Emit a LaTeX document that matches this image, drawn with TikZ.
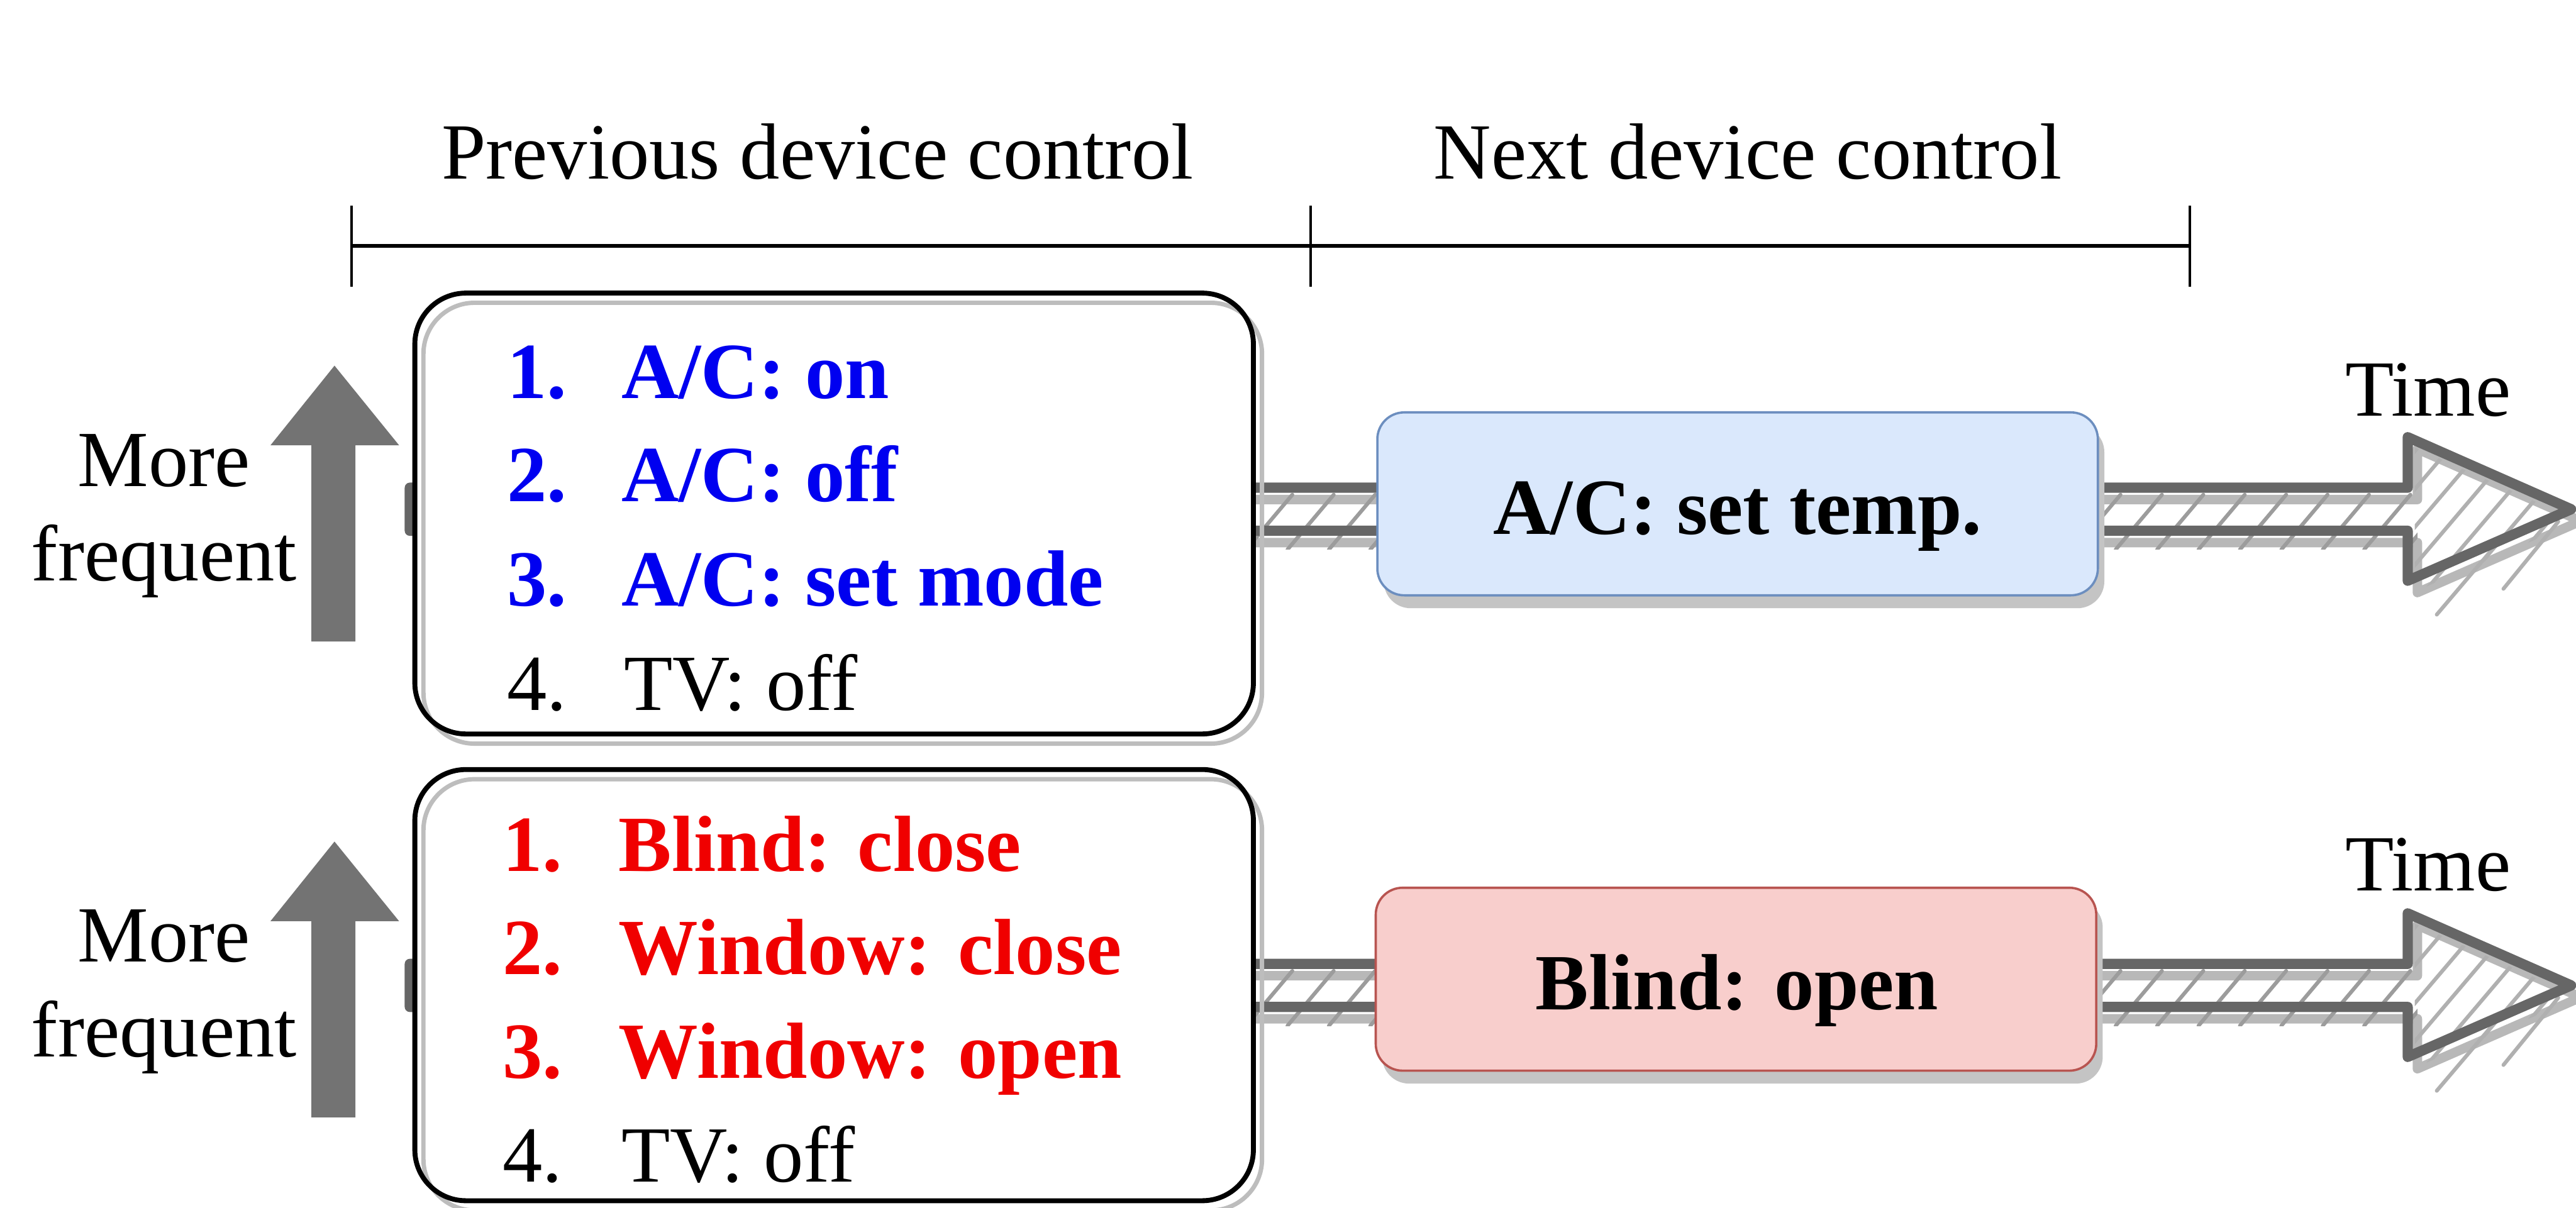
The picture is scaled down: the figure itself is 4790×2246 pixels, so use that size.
\documentclass[tikz,border=0pt]{standalone}
\usepackage{fontspec}
\setmainfont{Liberation Serif}
\usetikzlibrary{shadows}
\definecolor{arrdark}{HTML}{666666}
\definecolor{arrlight}{HTML}{B8B8B8}
\definecolor{hatch}{HTML}{9C9C9C}
\definecolor{hatchlt}{HTML}{B0B0B0}
\definecolor{upgray}{HTML}{737373}
\definecolor{bluefill}{HTML}{DAE8FC}
\definecolor{blueline}{HTML}{6C8EBF}
\definecolor{redfill}{HTML}{F8CECC}
\definecolor{redline}{HTML}{B85450}
\definecolor{sketchgray}{HTML}{BDBDBD}
\definecolor{shadowgray}{HTML}{C4C4C4}
\definecolor{listblue}{HTML}{0000F0}
\definecolor{listred}{HTML}{F00000}
\newcommand\myfs{\fontsize{42.1}{50}\selectfont}
\newcommand\timearrow[1]{%
\begin{scope}[yshift=#1]
 \draw[arrlightline, shift={(18,22)}] (762,907) -- (4477,907) -- (4477,813) -- (4781,947) -- (4477,1080) -- (4477,987) -- (762,987) -- cycle;
 \begin{scope}
  \clip (762,905) rectangle (4495,1022);
  \foreach \hx in {700,777,...,4500} {\draw[hatchline] (\hx,1022) -- ++(86,-102);}
 \end{scope}
 \begin{scope}
  \clip (4490,832) -- (4795,969) -- (4490,1100) -- cycle;
  \foreach \hx in {4260,4320,...,4800} {\draw[hatchline, draw=hatchlt] (\hx,1110) -- ++(255,-300);}
 \end{scope}
 \draw[hatchline, draw=hatchlt] (4531,1143) -- (4633,1023);
 \draw[hatchline, draw=hatchlt] (4655,1095) -- (4757,970);
 \draw[arrdarkline] (762,907) -- (4477,907) -- (4477,813) -- (4781,947) -- (4477,1080) -- (4477,987) -- (762,987) -- cycle;
\end{scope}}
\begin{document}
\begin{tikzpicture}[x=0.01cm, y=-0.01cm,
  txt/.style={font=\myfs, inner sep=0pt},
  btxt/.style={font=\myfs\bfseries, inner sep=0pt},
  listbox/.style={rectangle, rounded corners=0.95cm, fill=white, inner sep=0pt, minimum width=15.57cm},
  boxline/.style={draw=black, line width=2.6pt, rounded corners=0.95cm},
  sketchline/.style={draw=sketchgray, line width=2.3pt, rounded corners=0.95cm},
  ctlbox/.style={rectangle, rounded corners=0.5cm, line width=1.2pt, minimum width=13.39cm, minimum height=3.4cm, inner sep=0pt, drop shadow={shadow xshift=0.12cm, shadow yshift=-0.24cm, fill=shadowgray, opacity=1}},
  bracket/.style={line width=2pt, black},
  tickline/.style={line width=1.4pt, black},
  arrdarkline/.style={draw=arrdark, line width=5.4pt, line join=round},
  arrlightline/.style={draw=arrlight, line width=5pt, line join=round},
  hatchline/.style={draw=hatch, line width=2pt, line cap=round},
  uparrow/.style={fill=upgray}
]
\useasboundingbox (0,0) rectangle (4790,2246);
\fill[white] (0,0) rectangle (4790,2246);

% time bracket
\coordinate (bl) at (654,457);
\coordinate (bm) at (2437,457);
\coordinate (br) at (4072,457);
\draw[bracket] (bl) -- (bm) -- (br);
\draw[tickline] ([yshift=0.74cm]bl) -- ([yshift=-0.76cm]bl);
\draw[tickline] ([yshift=0.74cm]bm) -- ([yshift=-0.76cm]bm);
\draw[tickline] ([yshift=0.74cm]br) -- ([yshift=-0.76cm]br);
\node[txt, anchor=base] (prevlbl) at (1520,333) {Previous device control};
\node[txt, anchor=base] (nextlbl) at (3250,333) {Next device control};

% frequency arrows
\fill[uparrow] (622,680) -- (742,828) -- (661,828) -- (661,1193) -- (579,1193) -- (579,828) -- (503,828) -- cycle;
\fill[uparrow] (622,1565) -- (742,1713) -- (661,1713) -- (661,2078) -- (579,2078) -- (579,1713) -- (503,1713) -- cycle;
\node[txt, anchor=base] (more1) at (305,904) {More};
\node[txt, anchor=base] (freq1) at (305,1080) {frequent};
\node[txt, anchor=base] (more2) at (305,1789) {More};
\node[txt, anchor=base] (freq2) at (305,1965) {frequent};

% time arrows
\timearrow{0cm}
\timearrow{-8.85cm}
\node[txt, anchor=base] (time1) at (4515,773) {Time};
\node[txt, anchor=base] (time2) at (4515,1657) {Time};

% previous-control boxes
\node[listbox, minimum height=8.18cm] (prevA) at (1551,955) {};
\draw[sketchline] ([shift={(16,18)}]prevA.south west) rectangle ([shift={(16,18)}]prevA.north east);
\draw[boxline] (prevA.south west) rectangle (prevA.north east);

\node[listbox, minimum height=8.0cm] (prevB) at (1551,1832) {};
\draw[sketchline] ([shift={(16,18)}]prevB.south west) rectangle ([shift={(16,18)}]prevB.north east);
\draw[boxline] (prevB.south west) rectangle (prevB.north east);

% next-control boxes
\node[ctlbox, fill=bluefill, draw=blueline] (nextA) at (3231,937) {};
\node[btxt, anchor=base] (nextAtxt) at (3231,993) {A/C: set temp.};
\node[ctlbox, fill=redfill, draw=redline] (nextB) at (3228,1821) {};
\node[btxt, anchor=base] (nextBtxt) at (3230,1877) {Blind: open};

% list A
\node[btxt, text=listblue, anchor=base west] (a1n) at (942,741) {1.};
\node[btxt, text=listblue, anchor=base west] (a1t) at (1155,741) {A/C: on};
\node[btxt, text=listblue, anchor=base west] (a2n) at (942,933) {2.};
\node[btxt, text=listblue, anchor=base west] (a2t) at (1155,933) {A/C: off};
\node[btxt, text=listblue, anchor=base west] (a3n) at (942,1127) {3.};
\node[btxt, text=listblue, anchor=base west] (a3t) at (1155,1127) {A/C: set mode};
\node[txt, anchor=base west] (a4n) at (942,1321) {4.};
\node[txt, anchor=base west] (a4t) at (1160,1321) {TV: off};

% list B
\node[btxt, text=listred, anchor=base west] (b1n) at (934,1620) {1.};
\node[btxt, text=listred, anchor=base west] (b1t) at (1150,1620) {Blind: close};
\node[btxt, text=listred, anchor=base west] (b2n) at (934,1812) {2.};
\node[btxt, text=listred, anchor=base west] (b2t) at (1150,1812) {Window: close};
\node[btxt, text=listred, anchor=base west] (b3n) at (934,2005) {3.};
\node[btxt, text=listred, anchor=base west] (b3t) at (1150,2005) {Window: open};
\node[txt, anchor=base west] (b4n) at (934,2198) {4.};
\node[txt, anchor=base west] (b4t) at (1155,2198) {TV: off};
\end{tikzpicture}
\end{document}
